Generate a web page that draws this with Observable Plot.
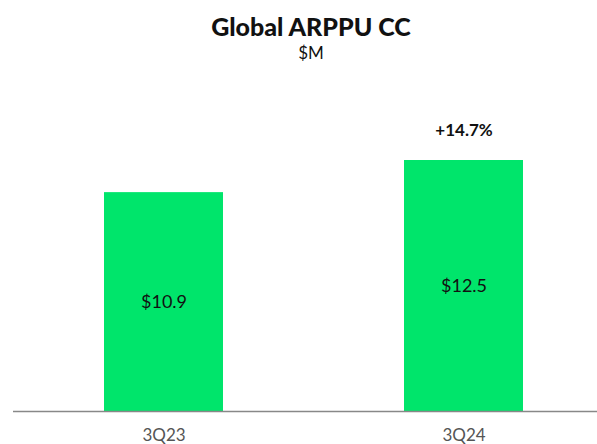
<!DOCTYPE html>
<html>
<head>
<meta charset="utf-8">
<script src="https://cdn.jsdelivr.net/npm/d3@7"></script>
<script src="https://cdn.jsdelivr.net/npm/@observablehq/plot@0.6"></script>
<style>
  html, body { margin: 0; padding: 0; background: #fff; }
  #wrap { position: relative; width: 597px; height: 444px; font-family: Lato, "Noto Sans", sans-serif; }
  #title { position: absolute; left: 0; width: 622px; top: 10px; text-align: center; font-size: 25px; font-weight: 900; color: #111; line-height: 32px; }
  #subtitle { position: absolute; left: 0; width: 622px; top: 42px; text-align: center; font-size: 17px; color: #111; line-height: 22px; }
  #chart { position: absolute; left: 0; top: 0; }
</style>
</head>
<body>
<div id="wrap">
  <div id="chart"></div>
  <div id="title">Global ARPPU CC</div>
  <div id="subtitle">$M</div>
</div>
<script>
const quarters = ["3Q23", "3Q24"];
const values = [10.9, 12.5];
const valueLabels = ["$10.9", "$12.5"];
const growthLabel = "+14.7%";

const data = quarters.map((q, i) => ({q, v: values[i], label: valueLabels[i]}));

const chart = Plot.plot({
  width: 597,
  height: 444,
  marginLeft: 13,
  marginRight: 0,
  marginTop: 0,
  marginBottom: 33,
  style: {fontFamily: "Lato, 'Noto Sans', sans-serif", background: "transparent"},
  x: {domain: quarters, range: [13.25, 614.25], paddingInner: 0.604, paddingOuter: 0.302, label: null},
  y: {domain: [0, 12.5], range: [411, 160], axis: null},
  marks: [
    Plot.barY(data, {x: "q", y: "v", fill: "#00e56b"}),
    Plot.ruleY([0], {stroke: "#888", strokeWidth: 1.5}),
    Plot.text(data, {x: "q", y: d => d.v / 2, text: "label", fontSize: 18, fill: "#111"}),
    Plot.text([data[1]], {x: "q", y: "v", text: () => growthLabel, dy: -30, fontSize: 17, fontWeight: "bold", fill: "#111"}),
    Plot.axisX({tickSize: 0, tickPadding: 17, fontSize: 17, color: "#555", label: null})
  ]
});
document.getElementById("chart").appendChild(chart);
</script>
</body>
</html>
